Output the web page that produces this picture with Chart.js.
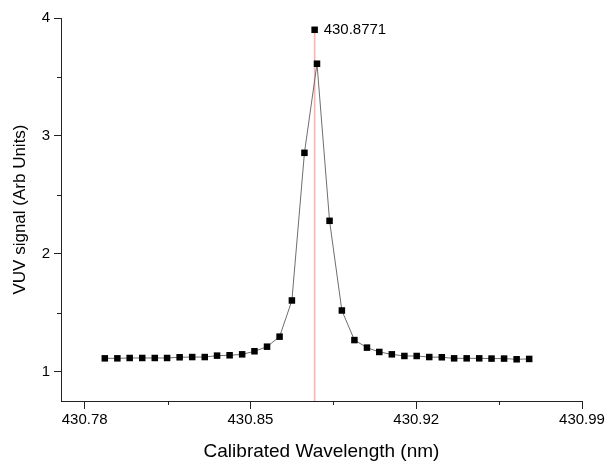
<!DOCTYPE html>
<html>
<head>
<meta charset="utf-8">
<script src="https://cdn.jsdelivr.net/npm/chart.js@4.4.0/dist/chart.umd.min.js"></script>
<style>
  body { margin: 0; background: #fff; }
  #wrap { width: 608px; height: 464px; }
</style>
</head>
<body>
<div id="wrap"><canvas id="vuvChart" width="608" height="464"></canvas></div>
<script>
const wavelength = [
    430.7885, 430.7938, 430.7990, 430.8043, 430.8096, 430.8148, 430.8201,
    430.8254, 430.8307, 430.8359, 430.8412, 430.8465, 430.8517, 430.8570,
    430.8623, 430.8675, 430.8728, 430.8781, 430.8834, 430.8886, 430.8939,
    430.8992, 430.9044, 430.9097, 430.9150, 430.9202, 430.9255, 430.9308,
    430.9360, 430.9413, 430.9466, 430.9518, 430.9571, 430.9624, 430.9677
];
const signal = [
    1.112, 1.112, 1.115, 1.115, 1.115, 1.115, 1.121,
    1.123, 1.123, 1.135, 1.138, 1.146, 1.172, 1.211,
    1.296, 1.603, 2.856, 3.612, 2.279, 1.518, 1.267,
    1.203, 1.166, 1.146, 1.132, 1.132, 1.123, 1.121,
    1.112, 1.112, 1.112, 1.110, 1.110, 1.104, 1.107
];

const peakWavelength = 430.8771;
const peakLabel = '430.8771';
const peakMarkerY = 3.9;
const axisBottom = 0.75;

const xTicks = [430.78, 430.85, 430.92, 430.99];
const xMinorTicks = [430.815, 430.885, 430.955];
const yTicks = [1, 2, 3, 4];
const yMinorTicks = [1.5, 2.5, 3.5];

const FONT = 'Liberation Sans, Arial, Helvetica, sans-serif';
const AXIS_COLOR = '#222';

// short outward ticks between the labelled ones
const minorTicksPlugin = {
    id: 'minorTicks',
    afterDraw(chart) {
        const ctx = chart.ctx;
        const xs = chart.scales.x, ys = chart.scales.y;
        const area = chart.chartArea;
        ctx.save();
        ctx.strokeStyle = AXIS_COLOR;
        ctx.lineWidth = 1;
        ctx.beginPath();
        xMinorTicks.forEach(v => {
            const px = Math.round(xs.getPixelForValue(v)) + 0.5;
            ctx.moveTo(px, area.bottom);
            ctx.lineTo(px, area.bottom + 4);
        });
        yMinorTicks.forEach(v => {
            const py = Math.round(ys.getPixelForValue(v)) + 0.5;
            ctx.moveTo(area.left, py);
            ctx.lineTo(area.left - 4, py);
        });
        ctx.stroke();
        ctx.restore();
    }
};

// text next to the peak marker
const peakLabelPlugin = {
    id: 'peakLabel',
    afterDatasetsDraw(chart) {
        const ctx = chart.ctx;
        const px = chart.scales.x.getPixelForValue(peakWavelength);
        const py = chart.scales.y.getPixelForValue(peakMarkerY);
        ctx.save();
        ctx.fillStyle = '#000';
        ctx.font = '15px ' + FONT;
        ctx.textBaseline = 'middle';
        ctx.fillText(peakLabel, px + 9, py);
        ctx.restore();
    }
};

const ctx = document.getElementById('vuvChart').getContext('2d');
new Chart(ctx, {
    type: 'scatter',
    data: {
        datasets: [
            {
                label: 'VUV signal',
                data: wavelength.map((w, i) => ({ x: w, y: signal[i] })),
                showLine: true,
                borderColor: '#6e6e6e',
                borderWidth: 1,
                tension: 0,
                pointStyle: 'rect',
                pointRadius: 4.6,
                pointBorderWidth: 0,
                pointBackgroundColor: '#000',
                pointBorderColor: '#000',
                order: 1
            },
            {
                label: 'peak',
                data: [{ x: peakWavelength, y: peakMarkerY }],
                pointStyle: 'rect',
                pointRadius: 4.6,
                pointBorderWidth: 0,
                pointBackgroundColor: '#000',
                order: 1
            },
            {
                label: 'peak line',
                data: [{ x: peakWavelength, y: peakMarkerY }, { x: peakWavelength, y: axisBottom }],
                showLine: true,
                borderColor: '#ffb0b0',
                borderWidth: 1.6,
                pointRadius: 0,
                order: 2
            }
        ]
    },
    options: {
        responsive: false,
        animation: false,
        layout: { padding: { top: 18, right: 26, left: 0, bottom: 0 } },
        plugins: {
            legend: { display: false },
            tooltip: { enabled: false }
        },
        scales: {
            x: {
                type: 'linear',
                position: 'bottom',
                min: 430.77,
                max: 430.99,
                afterBuildTicks: scale => { scale.ticks = xTicks.map(v => ({ value: v })); },
                afterFit: scale => { scale.height = 63; },
                border: { display: true, color: AXIS_COLOR, width: 1 },
                grid: { drawOnChartArea: false, drawTicks: true, tickLength: 8, color: AXIS_COLOR },
                ticks: {
                    color: '#000',
                    font: { family: FONT, size: 15 },
                    padding: 2,
                    maxRotation: 0,
                    callback: v => v.toFixed(2)
                },
                title: {
                    display: true,
                    text: 'Calibrated Wavelength (nm)',
                    color: '#000',
                    font: { family: FONT, size: 19 },
                    padding: { top: 6, bottom: 1 }
                }
            },
            y: {
                min: axisBottom,
                max: 4,
                afterBuildTicks: scale => { scale.ticks = yTicks.map(v => ({ value: v })); },
                afterFit: scale => { scale.width = 61; },
                border: { display: true, color: AXIS_COLOR, width: 1 },
                grid: { drawOnChartArea: false, drawTicks: true, tickLength: 7, color: AXIS_COLOR },
                ticks: {
                    color: '#000',
                    font: { family: FONT, size: 15 },
                    padding: 4
                },
                title: {
                    display: true,
                    text: 'VUV signal (Arb Units)',
                    color: '#000',
                    font: { family: FONT, size: 17 },
                    padding: { top: 10, bottom: 0 }
                }
            }
        }
    },
    plugins: [minorTicksPlugin, peakLabelPlugin]
});
</script>
</body>
</html>
